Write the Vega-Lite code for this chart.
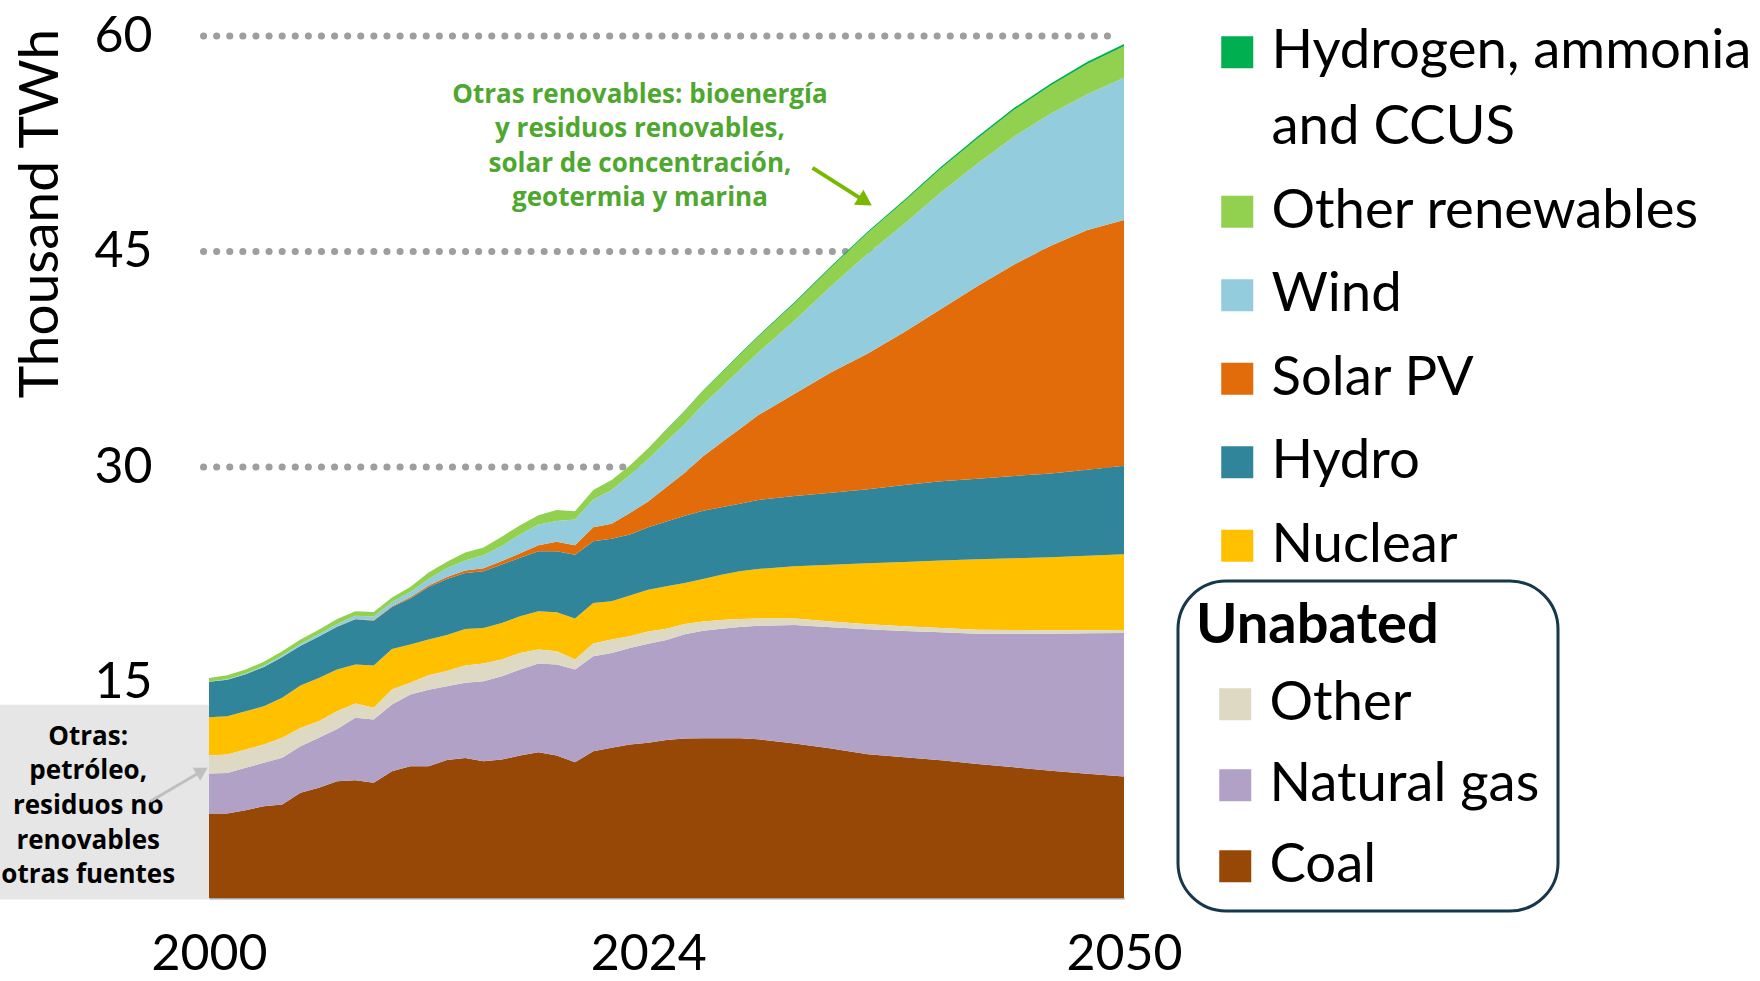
{
  "$schema": "https://vega.github.io/schema/vega-lite/v6.json",
  "width": 915,
  "height": 862,
  "autosize": {"type": "none"},
  "padding": {"left": 209, "top": 36, "right": 636, "bottom": 83},
  "background": "#ffffff",
  "config": {
    "view": {"stroke": null},
    "font": "Lato",
    "style": {"guide-label": {"lineHeight": 76}},
    "legend": {"strokeWidth": 3},
    "axisX": {"grid": false, "ticks": false, "domain": true, "domainColor": "#a6a6a6", "domainWidth": 2, "labelFont": "Lato", "labelFontSize": 50, "labelColor": "#000000", "labelPadding": 31, "labelFlush": false, "labelOverlap": false, "zindex": 1},
    "axisY": {"grid": false, "ticks": false, "domain": false, "labelFont": "Lato", "labelFontSize": 50, "labelColor": "#000000", "labelPadding": 57, "labelFlush": false, "labelOverlap": false, "titleFont": "Lato", "titleFontSize": 55, "titleFontWeight": "normal", "titleColor": "#000000"}
  },
  "datasets": {
    "gen": [
      {"year":2000,"source":"Coal","value":5.88},{"year":2000,"source":"Natural gas","value":2.78},{"year":2000,"source":"Other","value":1.26},{"year":2000,"source":"Nuclear","value":2.66},{"year":2000,"source":"Hydro","value":2.47},{"year":2000,"source":"Solar PV","value":0},{"year":2000,"source":"Wind","value":0.02},{"year":2000,"source":"Other renewables","value":0.25},{"year":2000,"source":"Hydrogen, ammonia and CCUS","value":0},
      {"year":2001,"source":"Coal","value":5.88},{"year":2001,"source":"Natural gas","value":2.82},{"year":2001,"source":"Other","value":1.29},{"year":2001,"source":"Nuclear","value":2.66},{"year":2001,"source":"Hydro","value":2.55},{"year":2001,"source":"Solar PV","value":0},{"year":2001,"source":"Wind","value":0.03},{"year":2001,"source":"Other renewables","value":0.27},{"year":2001,"source":"Hydrogen, ammonia and CCUS","value":0},
      {"year":2002,"source":"Coal","value":6.11},{"year":2002,"source":"Natural gas","value":2.95},{"year":2002,"source":"Other","value":1.27},{"year":2002,"source":"Nuclear","value":2.67},{"year":2002,"source":"Hydro","value":2.58},{"year":2002,"source":"Solar PV","value":0},{"year":2002,"source":"Wind","value":0.05},{"year":2002,"source":"Other renewables","value":0.27},{"year":2002,"source":"Hydrogen, ammonia and CCUS","value":0},
      {"year":2003,"source":"Coal","value":6.39},{"year":2003,"source":"Natural gas","value":3.02},{"year":2003,"source":"Other","value":1.27},{"year":2003,"source":"Nuclear","value":2.67},{"year":2003,"source":"Hydro","value":2.73},{"year":2003,"source":"Solar PV","value":0},{"year":2003,"source":"Wind","value":0.08},{"year":2003,"source":"Other renewables","value":0.29},{"year":2003,"source":"Hydrogen, ammonia and CCUS","value":0},
      {"year":2004,"source":"Coal","value":6.51},{"year":2004,"source":"Natural gas","value":3.25},{"year":2004,"source":"Other","value":1.39},{"year":2004,"source":"Nuclear","value":2.78},{"year":2004,"source":"Hydro","value":2.85},{"year":2004,"source":"Solar PV","value":0},{"year":2004,"source":"Wind","value":0.10},{"year":2004,"source":"Other renewables","value":0.30},{"year":2004,"source":"Hydrogen, ammonia and CCUS","value":0},
      {"year":2005,"source":"Coal","value":7.32},{"year":2005,"source":"Natural gas","value":3.24},{"year":2005,"source":"Other","value":1.28},{"year":2005,"source":"Nuclear","value":2.95},{"year":2005,"source":"Hydro","value":2.76},{"year":2005,"source":"Solar PV","value":0},{"year":2005,"source":"Wind","value":0.13},{"year":2005,"source":"Other renewables","value":0.32},{"year":2005,"source":"Hydrogen, ammonia and CCUS","value":0},
      {"year":2006,"source":"Coal","value":7.67},{"year":2006,"source":"Natural gas","value":3.48},{"year":2006,"source":"Other","value":1.15},{"year":2006,"source":"Nuclear","value":3.02},{"year":2006,"source":"Hydro","value":2.88},{"year":2006,"source":"Solar PV","value":0},{"year":2006,"source":"Wind","value":0.16},{"year":2006,"source":"Other renewables","value":0.32},{"year":2006,"source":"Hydrogen, ammonia and CCUS","value":0},
      {"year":2007,"source":"Coal","value":8.13},{"year":2007,"source":"Natural gas","value":3.64},{"year":2007,"source":"Other","value":1.23},{"year":2007,"source":"Nuclear","value":2.90},{"year":2007,"source":"Hydro","value":2.98},{"year":2007,"source":"Solar PV","value":0.01},{"year":2007,"source":"Wind","value":0.19},{"year":2007,"source":"Other renewables","value":0.34},{"year":2007,"source":"Hydrogen, ammonia and CCUS","value":0},
      {"year":2008,"source":"Coal","value":8.20},{"year":2008,"source":"Natural gas","value":4.34},{"year":2008,"source":"Other","value":1.00},{"year":2008,"source":"Nuclear","value":2.71},{"year":2008,"source":"Hydro","value":3.15},{"year":2008,"source":"Solar PV","value":0.02},{"year":2008,"source":"Wind","value":0.23},{"year":2008,"source":"Other renewables","value":0.31},{"year":2008,"source":"Hydrogen, ammonia and CCUS","value":0},
      {"year":2009,"source":"Coal","value":8.02},{"year":2009,"source":"Natural gas","value":4.40},{"year":2009,"source":"Other","value":0.82},{"year":2009,"source":"Nuclear","value":2.94},{"year":2009,"source":"Hydro","value":3.12},{"year":2009,"source":"Solar PV","value":0.03},{"year":2009,"source":"Wind","value":0.27},{"year":2009,"source":"Other renewables","value":0.30},{"year":2009,"source":"Hydrogen, ammonia and CCUS","value":0},
      {"year":2010,"source":"Coal","value":8.83},{"year":2010,"source":"Natural gas","value":4.64},{"year":2010,"source":"Other","value":1.04},{"year":2010,"source":"Nuclear","value":2.83},{"year":2010,"source":"Hydro","value":2.91},{"year":2010,"source":"Solar PV","value":0.05},{"year":2010,"source":"Wind","value":0.30},{"year":2010,"source":"Other renewables","value":0.32},{"year":2010,"source":"Hydrogen, ammonia and CCUS","value":0},
      {"year":2011,"source":"Coal","value":9.17},{"year":2011,"source":"Natural gas","value":4.99},{"year":2011,"source":"Other","value":0.82},{"year":2011,"source":"Nuclear","value":2.66},{"year":2011,"source":"Hydro","value":3.21},{"year":2011,"source":"Solar PV","value":0.08},{"year":2011,"source":"Wind","value":0.37},{"year":2011,"source":"Other renewables","value":0.35},{"year":2011,"source":"Hydrogen, ammonia and CCUS","value":0},
      {"year":2012,"source":"Coal","value":9.17},{"year":2012,"source":"Natural gas","value":5.33},{"year":2012,"source":"Other","value":1.00},{"year":2012,"source":"Nuclear","value":2.50},{"year":2012,"source":"Hydro","value":3.65},{"year":2012,"source":"Solar PV","value":0.10},{"year":2012,"source":"Wind","value":0.45},{"year":2012,"source":"Other renewables","value":0.45},{"year":2012,"source":"Hydrogen, ammonia and CCUS","value":0},
      {"year":2013,"source":"Coal","value":9.60},{"year":2013,"source":"Natural gas","value":5.14},{"year":2013,"source":"Other","value":1.06},{"year":2013,"source":"Nuclear","value":2.50},{"year":2013,"source":"Hydro","value":3.90},{"year":2013,"source":"Solar PV","value":0.15},{"year":2013,"source":"Wind","value":0.60},{"year":2013,"source":"Other renewables","value":0.45},{"year":2013,"source":"Hydrogen, ammonia and CCUS","value":0},
      {"year":2014,"source":"Coal","value":9.75},{"year":2014,"source":"Natural gas","value":5.23},{"year":2014,"source":"Other","value":1.20},{"year":2014,"source":"Nuclear","value":2.55},{"year":2014,"source":"Hydro","value":3.90},{"year":2014,"source":"Solar PV","value":0.17},{"year":2014,"source":"Wind","value":0.70},{"year":2014,"source":"Other renewables","value":0.55},{"year":2014,"source":"Hydrogen, ammonia and CCUS","value":0},
      {"year":2015,"source":"Coal","value":9.52},{"year":2015,"source":"Natural gas","value":5.57},{"year":2015,"source":"Other","value":1.23},{"year":2015,"source":"Nuclear","value":2.48},{"year":2015,"source":"Hydro","value":3.94},{"year":2015,"source":"Solar PV","value":0.21},{"year":2015,"source":"Wind","value":0.90},{"year":2015,"source":"Other renewables","value":0.55},{"year":2015,"source":"Hydrogen, ammonia and CCUS","value":0},
      {"year":2016,"source":"Coal","value":9.64},{"year":2016,"source":"Natural gas","value":5.80},{"year":2016,"source":"Other","value":1.16},{"year":2016,"source":"Nuclear","value":2.55},{"year":2016,"source":"Hydro","value":4.06},{"year":2016,"source":"Solar PV","value":0.24},{"year":2016,"source":"Wind","value":1.05},{"year":2016,"source":"Other renewables","value":0.65},{"year":2016,"source":"Hydrogen, ammonia and CCUS","value":0},
      {"year":2017,"source":"Coal","value":9.92},{"year":2017,"source":"Natural gas","value":5.98},{"year":2017,"source":"Other","value":1.16},{"year":2017,"source":"Nuclear","value":2.55},{"year":2017,"source":"Hydro","value":4.07},{"year":2017,"source":"Solar PV","value":0.32},{"year":2017,"source":"Wind","value":1.30},{"year":2017,"source":"Other renewables","value":0.65},{"year":2017,"source":"Hydrogen, ammonia and CCUS","value":0},
      {"year":2018,"source":"Coal","value":10.15},{"year":2018,"source":"Natural gas","value":6.17},{"year":2018,"source":"Other","value":0.97},{"year":2018,"source":"Nuclear","value":2.67},{"year":2018,"source":"Hydro","value":4.18},{"year":2018,"source":"Solar PV","value":0.41},{"year":2018,"source":"Wind","value":1.45},{"year":2018,"source":"Other renewables","value":0.65},{"year":2018,"source":"Hydrogen, ammonia and CCUS","value":0},
      {"year":2019,"source":"Coal","value":9.92},{"year":2019,"source":"Natural gas","value":6.33},{"year":2019,"source":"Other","value":0.93},{"year":2019,"source":"Nuclear","value":2.71},{"year":2019,"source":"Hydro","value":4.25},{"year":2019,"source":"Solar PV","value":0.66},{"year":2019,"source":"Wind","value":1.45},{"year":2019,"source":"Other renewables","value":0.75},{"year":2019,"source":"Hydrogen, ammonia and CCUS","value":0},
      {"year":2020,"source":"Coal","value":9.45},{"year":2020,"source":"Natural gas","value":6.45},{"year":2020,"source":"Other","value":0.70},{"year":2020,"source":"Nuclear","value":2.85},{"year":2020,"source":"Hydro","value":4.45},{"year":2020,"source":"Solar PV","value":0.65},{"year":2020,"source":"Wind","value":1.80},{"year":2020,"source":"Other renewables","value":0.57},{"year":2020,"source":"Hydrogen, ammonia and CCUS","value":0},
      {"year":2021,"source":"Coal","value":10.22},{"year":2021,"source":"Natural gas","value":6.61},{"year":2021,"source":"Other","value":0.88},{"year":2021,"source":"Nuclear","value":2.83},{"year":2021,"source":"Hydro","value":4.29},{"year":2021,"source":"Solar PV","value":0.97},{"year":2021,"source":"Wind","value":1.93},{"year":2021,"source":"Other renewables","value":0.67},{"year":2021,"source":"Hydrogen, ammonia and CCUS","value":0},
      {"year":2022,"source":"Coal","value":10.45},{"year":2022,"source":"Natural gas","value":6.61},{"year":2022,"source":"Other","value":0.93},{"year":2022,"source":"Nuclear","value":2.67},{"year":2022,"source":"Hydro","value":4.34},{"year":2022,"source":"Solar PV","value":1.05},{"year":2022,"source":"Wind","value":2.35},{"year":2022,"source":"Other renewables","value":0.70},{"year":2022,"source":"Hydrogen, ammonia and CCUS","value":0},
      {"year":2023,"source":"Coal","value":10.68},{"year":2023,"source":"Natural gas","value":6.73},{"year":2023,"source":"Other","value":0.81},{"year":2023,"source":"Nuclear","value":2.83},{"year":2023,"source":"Hydro","value":4.25},{"year":2023,"source":"Solar PV","value":1.50},{"year":2023,"source":"Wind","value":2.65},{"year":2023,"source":"Other renewables","value":0.65},{"year":2023,"source":"Hydrogen, ammonia and CCUS","value":0},
      {"year":2024,"source":"Coal","value":10.80},{"year":2024,"source":"Natural gas","value":6.90},{"year":2024,"source":"Other","value":0.85},{"year":2024,"source":"Nuclear","value":2.90},{"year":2024,"source":"Hydro","value":4.35},{"year":2024,"source":"Solar PV","value":1.80},{"year":2024,"source":"Wind","value":2.95},{"year":2024,"source":"Other renewables","value":0.75},{"year":2024,"source":"Hydrogen, ammonia and CCUS","value":0},
      {"year":2025,"source":"Coal","value":11.00},{"year":2025,"source":"Natural gas","value":6.95},{"year":2025,"source":"Other","value":0.80},{"year":2025,"source":"Nuclear","value":2.95},{"year":2025,"source":"Hydro","value":4.50},{"year":2025,"source":"Solar PV","value":2.40},{"year":2025,"source":"Wind","value":3.20},{"year":2025,"source":"Other renewables","value":0.80},{"year":2025,"source":"Hydrogen, ammonia and CCUS","value":0.02},
      {"year":2026,"source":"Coal","value":11.10},{"year":2026,"source":"Natural gas","value":7.25},{"year":2026,"source":"Other","value":0.72},{"year":2026,"source":"Nuclear","value":2.86},{"year":2026,"source":"Hydro","value":4.67},{"year":2026,"source":"Solar PV","value":3.00},{"year":2026,"source":"Wind","value":3.40},{"year":2026,"source":"Other renewables","value":0.90},{"year":2026,"source":"Hydrogen, ammonia and CCUS","value":0.03},
      {"year":2027,"source":"Coal","value":11.12},{"year":2027,"source":"Natural gas","value":7.48},{"year":2027,"source":"Other","value":0.65},{"year":2027,"source":"Nuclear","value":2.95},{"year":2027,"source":"Hydro","value":4.75},{"year":2027,"source":"Solar PV","value":3.80},{"year":2027,"source":"Wind","value":3.60},{"year":2027,"source":"Other renewables","value":0.95},{"year":2027,"source":"Hydrogen, ammonia and CCUS","value":0.04},
      {"year":2028,"source":"Coal","value":11.12},{"year":2028,"source":"Natural gas","value":7.63},{"year":2028,"source":"Other","value":0.60},{"year":2028,"source":"Nuclear","value":3.15},{"year":2028,"source":"Hydro","value":4.70},{"year":2028,"source":"Solar PV","value":4.50},{"year":2028,"source":"Wind","value":3.85},{"year":2028,"source":"Other renewables","value":1.00},{"year":2028,"source":"Hydrogen, ammonia and CCUS","value":0.05},
      {"year":2029,"source":"Coal","value":11.12},{"year":2029,"source":"Natural gas","value":7.75},{"year":2029,"source":"Other","value":0.55},{"year":2029,"source":"Nuclear","value":3.33},{"year":2029,"source":"Hydro","value":4.70},{"year":2029,"source":"Solar PV","value":5.20},{"year":2029,"source":"Wind","value":4.10},{"year":2029,"source":"Other renewables","value":1.05},{"year":2029,"source":"Hydrogen, ammonia and CCUS","value":0.06},
      {"year":2030,"source":"Coal","value":11.05},{"year":2030,"source":"Natural gas","value":7.90},{"year":2030,"source":"Other","value":0.50},{"year":2030,"source":"Nuclear","value":3.45},{"year":2030,"source":"Hydro","value":4.80},{"year":2030,"source":"Solar PV","value":5.90},{"year":2030,"source":"Wind","value":4.35},{"year":2030,"source":"Other renewables","value":1.10},{"year":2030,"source":"Hydrogen, ammonia and CCUS","value":0.07},
      {"year":2032,"source":"Coal","value":10.75},{"year":2032,"source":"Natural gas","value":8.25},{"year":2032,"source":"Other","value":0.45},{"year":2032,"source":"Nuclear","value":3.65},{"year":2032,"source":"Hydro","value":4.88},{"year":2032,"source":"Solar PV","value":7.12},{"year":2032,"source":"Wind","value":5.10},{"year":2032,"source":"Other renewables","value":1.20},{"year":2032,"source":"Hydrogen, ammonia and CCUS","value":0.08},
      {"year":2034,"source":"Coal","value":10.40},{"year":2034,"source":"Natural gas","value":8.45},{"year":2034,"source":"Other","value":0.40},{"year":2034,"source":"Nuclear","value":3.95},{"year":2034,"source":"Hydro","value":5.00},{"year":2034,"source":"Solar PV","value":8.40},{"year":2034,"source":"Wind","value":6.00},{"year":2034,"source":"Other renewables","value":1.30},{"year":2034,"source":"Hydrogen, ammonia and CCUS","value":0.09},
      {"year":2036,"source":"Coal","value":10.00},{"year":2036,"source":"Natural gas","value":8.70},{"year":2036,"source":"Other","value":0.36},{"year":2036,"source":"Nuclear","value":4.24},{"year":2036,"source":"Hydro","value":5.15},{"year":2036,"source":"Solar PV","value":9.45},{"year":2036,"source":"Wind","value":6.95},{"year":2036,"source":"Other renewables","value":1.45},{"year":2036,"source":"Hydrogen, ammonia and CCUS","value":0.10},
      {"year":2038,"source":"Coal","value":9.80},{"year":2038,"source":"Natural gas","value":8.79},{"year":2038,"source":"Other","value":0.33},{"year":2038,"source":"Nuclear","value":4.46},{"year":2038,"source":"Hydro","value":5.36},{"year":2038,"source":"Solar PV","value":10.66},{"year":2038,"source":"Wind","value":7.54},{"year":2038,"source":"Other renewables","value":1.55},{"year":2038,"source":"Hydrogen, ammonia and CCUS","value":0.11},
      {"year":2040,"source":"Coal","value":9.58},{"year":2040,"source":"Natural gas","value":8.92},{"year":2040,"source":"Other","value":0.30},{"year":2040,"source":"Nuclear","value":4.70},{"year":2040,"source":"Hydro","value":5.50},{"year":2040,"source":"Solar PV","value":12.00},{"year":2040,"source":"Wind","value":8.13},{"year":2040,"source":"Other renewables","value":1.65},{"year":2040,"source":"Hydrogen, ammonia and CCUS","value":0.12},
      {"year":2042,"source":"Coal","value":9.33},{"year":2042,"source":"Natural gas","value":9.07},{"year":2042,"source":"Other","value":0.28},{"year":2042,"source":"Nuclear","value":4.90},{"year":2042,"source":"Hydro","value":5.60},{"year":2042,"source":"Solar PV","value":13.42},{"year":2042,"source":"Wind","value":8.52},{"year":2042,"source":"Other renewables","value":1.75},{"year":2042,"source":"Hydrogen, ammonia and CCUS","value":0.13},
      {"year":2044,"source":"Coal","value":9.10},{"year":2044,"source":"Natural gas","value":9.30},{"year":2044,"source":"Other","value":0.25},{"year":2044,"source":"Nuclear","value":5.00},{"year":2044,"source":"Hydro","value":5.73},{"year":2044,"source":"Solar PV","value":14.72},{"year":2044,"source":"Wind","value":8.91},{"year":2044,"source":"Other renewables","value":1.85},{"year":2044,"source":"Hydrogen, ammonia and CCUS","value":0.14},
      {"year":2046,"source":"Coal","value":8.85},{"year":2046,"source":"Natural gas","value":9.55},{"year":2046,"source":"Other","value":0.23},{"year":2046,"source":"Nuclear","value":5.09},{"year":2046,"source":"Hydro","value":5.83},{"year":2046,"source":"Solar PV","value":15.85},{"year":2046,"source":"Wind","value":9.20},{"year":2046,"source":"Other renewables","value":1.95},{"year":2046,"source":"Hydrogen, ammonia and CCUS","value":0.15},
      {"year":2048,"source":"Coal","value":8.65},{"year":2048,"source":"Natural gas","value":9.77},{"year":2048,"source":"Other","value":0.21},{"year":2048,"source":"Nuclear","value":5.19},{"year":2048,"source":"Hydro","value":5.98},{"year":2048,"source":"Solar PV","value":16.70},{"year":2048,"source":"Wind","value":9.45},{"year":2048,"source":"Other renewables","value":2.10},{"year":2048,"source":"Hydrogen, ammonia and CCUS","value":0.15},
      {"year":2050,"source":"Coal","value":8.46},{"year":2050,"source":"Natural gas","value":9.99},{"year":2050,"source":"Other","value":0.20},{"year":2050,"source":"Nuclear","value":5.27},{"year":2050,"source":"Hydro","value":6.16},{"year":2050,"source":"Solar PV","value":17.12},{"year":2050,"source":"Wind","value":9.89},{"year":2050,"source":"Other renewables","value":2.20},{"year":2050,"source":"Hydrogen, ammonia and CCUS","value":0.16}
    ]
  },
  "layer": [
    {
      "data": {"values": [{"grid": 30}, {"grid": 45}, {"grid": 60}]},
      "mark": {"type": "rule", "color": "#9e9e9e", "strokeWidth": 7, "strokeDash": [0.1, 13], "strokeCap": "round"},
      "encoding": {
        "y": {"field": "grid", "type": "quantitative", "scale": {"domain": [0, 60], "nice": false}, "axis": {"values": [15, 30, 45, 60], "title": "Thousand TWh", "titleX": -152, "titleY": 177, "titleBaseline": "alphabetic", "titleAlign": "center", "titleAngle": 270}},
        "x": {"datum": 1999.7, "type": "quantitative", "scale": {"domain": [2000, 2050], "nice": false}, "axis": {"values": [2000, 2024, 2050], "format": "d", "title": null}},
        "x2": {"datum": 2049.3}
      }
    },
    {
      "data": {"name": "gen"},
      "transform": [
        {"calculate": "indexof(['Coal','Natural gas','Other','Nuclear','Hydro','Solar PV','Wind','Other renewables','Hydrogen, ammonia and CCUS'], datum.source)", "as": "rank"},
        {"stack": "value", "groupby": ["year"], "sort": [{"field": "rank", "order": "ascending"}], "as": ["y0", "y1"]},
        {"filter": "datum.rank >= 3"}
      ],
      "mark": {"type": "area", "opacity": 1},
      "encoding": {
        "x": {"field": "year", "type": "quantitative", "scale": {"domain": [2000, 2050], "nice": false}, "axis": {"values": [2000, 2024, 2050], "format": "d", "title": null}},
        "y": {"field": "y1", "type": "quantitative", "scale": {"domain": [0, 60], "nice": false}, "axis": {"values": [15, 30, 45, 60], "title": "Thousand TWh", "titleX": -152, "titleY": 177, "titleBaseline": "alphabetic", "titleAlign": "center", "titleAngle": 270}},
        "y2": {"field": "y0"},
        "color": {
          "field": "source", "type": "nominal",
          "scale": {"domain": ["Hydrogen, ammonia and CCUS", "Other renewables", "Wind", "Solar PV", "Hydro", "Nuclear"], "range": ["#00b050", "#92d050", "#93cddd", "#e36c0a", "#31859b", "#ffc000"]},
          "legend": {
            "title": null, "orient": "none", "legendX": 1001, "legendY": -11, "padding": 0,
            "symbolType": "square", "symbolSize": 1024, "symbolStrokeWidth": 0, "symbolOffset": 0,
            "labelFont": "Lato", "labelFontSize": 54.5, "labelColor": "#000000", "labelLimit": 1000, "labelOffset": 7, "rowPadding": 28.5,
            "labelExpr": "datum.value == 'Hydrogen, ammonia and CCUS' ? ['Hydrogen, ammonia', 'and CCUS'] : datum.label",
            "encode": {"labels": {"lineHeight": {"value": 76}}}
          }
        }
      }
    },
    {
      "data": {"name": "gen"},
      "transform": [
        {"calculate": "indexof(['Coal','Natural gas','Other','Nuclear','Hydro','Solar PV','Wind','Other renewables','Hydrogen, ammonia and CCUS'], datum.source)", "as": "rank"},
        {"stack": "value", "groupby": ["year"], "sort": [{"field": "rank", "order": "ascending"}], "as": ["y0", "y1"]},
        {"filter": "datum.rank < 3"}
      ],
      "mark": {"type": "area", "opacity": 1},
      "encoding": {
        "x": {"field": "year", "type": "quantitative", "scale": {"domain": [2000, 2050], "nice": false}, "axis": {"values": [2000, 2024, 2050], "format": "d", "title": null}},
        "y": {"field": "y1", "type": "quantitative", "scale": {"domain": [0, 60], "nice": false}, "axis": {"values": [15, 30, 45, 60], "title": "Thousand TWh", "titleX": -152, "titleY": 177, "titleBaseline": "alphabetic", "titleAlign": "center", "titleAngle": 270}},
        "y2": {"field": "y0"},
        "color": {
          "field": "source", "type": "nominal",
          "scale": {"domain": ["Other", "Natural gas", "Coal"], "range": ["#ddd9c3", "#b2a1c7", "#974807"]},
          "legend": {
            "title": "Unabated", "titleFont": "Lato", "titleFontSize": 56, "titleFontWeight": "bold", "titleColor": "#000000", "titleLimit": 1000, "titlePadding": 22, "titleAnchor": "start",
            "orient": "none", "legendX": 969, "legendY": 545, "padding": 18, "strokeColor": "#17374a", "cornerRadius": 48,
            "symbolType": "square", "symbolSize": 1024, "symbolStrokeWidth": 0, "symbolOffset": 12,
            "labelFont": "Lato", "labelFontSize": 54.5, "labelColor": "#000000", "labelLimit": 1000, "labelOffset": 7, "rowPadding": 26
          }
        }
      }
    },
    {
      "data": {"values": [{}]},
      "mark": {"type": "rect", "color": "#e7e6e6"},
      "encoding": {
        "x": {"datum": 1988.5, "type": "quantitative", "scale": {"domain": [2000, 2050], "nice": false}, "axis": {"values": [2000, 2024, 2050], "format": "d", "title": null}},
        "x2": {"datum": 2000},
        "y": {"datum": 13.45, "type": "quantitative", "scale": {"domain": [0, 60], "nice": false}, "axis": {"values": [15, 30, 45, 60], "title": "Thousand TWh", "titleX": -152, "titleY": 177, "titleBaseline": "alphabetic", "titleAlign": "center", "titleAngle": 270}},
        "y2": {"datum": -0.1}
      }
    },
    {
      "data": {"values": [{}]},
      "mark": {"type": "text", "font": "Open Sans", "fontWeight": "bold", "fontSize": 26, "lineHeight": 34.7, "align": "center", "baseline": "alphabetic", "color": "#000000"},
      "encoding": {
        "x": {"datum": 1993.4, "type": "quantitative", "scale": {"domain": [2000, 2050], "nice": false}, "axis": {"values": [2000, 2024, 2050], "format": "d", "title": null}},
        "y": {"datum": 10.68, "type": "quantitative", "scale": {"domain": [0, 60], "nice": false}, "axis": {"values": [15, 30, 45, 60], "title": "Thousand TWh", "titleX": -152, "titleY": 177, "titleBaseline": "alphabetic", "titleAlign": "center", "titleAngle": 270}},
        "text": {"value": ["Otras:", "petróleo,", "residuos no", "renovables", "otras fuentes"]}
      }
    },
    {
      "data": {"values": [{}]},
      "mark": {"type": "rule", "color": "#bfbfbf", "strokeWidth": 3},
      "encoding": {
        "x": {"datum": 1996.78, "type": "quantitative", "scale": {"domain": [2000, 2050], "nice": false}, "axis": {"values": [2000, 2024, 2050], "format": "d", "title": null}},
        "y": {"datum": 6.72, "type": "quantitative", "scale": {"domain": [0, 60], "nice": false}, "axis": {"values": [15, 30, 45, 60], "title": "Thousand TWh", "titleX": -152, "titleY": 177, "titleBaseline": "alphabetic", "titleAlign": "center", "titleAngle": 270}},
        "x2": {"datum": 1999.62},
        "y2": {"datum": 8.84}
      }
    },
    {
      "data": {"values": [{}]},
      "mark": {"type": "point", "shape": "triangle-up", "filled": true, "color": "#bfbfbf", "opacity": 1, "size": 220, "angle": 59.6},
      "encoding": {
        "x": {"datum": 1999.62, "type": "quantitative", "scale": {"domain": [2000, 2050], "nice": false}, "axis": {"values": [2000, 2024, 2050], "format": "d", "title": null}},
        "y": {"datum": 8.84, "type": "quantitative", "scale": {"domain": [0, 60], "nice": false}, "axis": {"values": [15, 30, 45, 60], "title": "Thousand TWh", "titleX": -152, "titleY": 177, "titleBaseline": "alphabetic", "titleAlign": "center", "titleAngle": 270}}
      }
    },
    {
      "data": {"values": [{}]},
      "mark": {"type": "text", "font": "Open Sans", "fontWeight": "bold", "fontSize": 26, "lineHeight": 34.5, "align": "center", "baseline": "alphabetic", "color": "#4ea72e"},
      "encoding": {
        "x": {"datum": 2023.55, "type": "quantitative", "scale": {"domain": [2000, 2050], "nice": false}, "axis": {"values": [2000, 2024, 2050], "format": "d", "title": null}},
        "y": {"datum": 55.34, "type": "quantitative", "scale": {"domain": [0, 60], "nice": false}, "axis": {"values": [15, 30, 45, 60], "title": "Thousand TWh", "titleX": -152, "titleY": 177, "titleBaseline": "alphabetic", "titleAlign": "center", "titleAngle": 270}},
        "text": {"value": ["Otras renovables: bioenergía", "y residuos renovables,", "solar de concentración,", "geotermia y marina"]}
      }
    },
    {
      "data": {"values": [{}]},
      "mark": {"type": "rule", "color": "#78b900", "strokeWidth": 4},
      "encoding": {
        "x": {"datum": 2032.98, "type": "quantitative", "scale": {"domain": [2000, 2050], "nice": false}, "axis": {"values": [2000, 2024, 2050], "format": "d", "title": null}},
        "y": {"datum": 50.82, "type": "quantitative", "scale": {"domain": [0, 60], "nice": false}, "axis": {"values": [15, 30, 45, 60], "title": "Thousand TWh", "titleX": -152, "titleY": 177, "titleBaseline": "alphabetic", "titleAlign": "center", "titleAngle": 270}},
        "x2": {"datum": 2035.86},
        "y2": {"datum": 48.49}
      }
    },
    {
      "data": {"values": [{}]},
      "mark": {"type": "point", "shape": "triangle-up", "filled": true, "color": "#78b900", "opacity": 1, "size": 320, "angle": 122.3},
      "encoding": {
        "x": {"datum": 2035.86, "type": "quantitative", "scale": {"domain": [2000, 2050], "nice": false}, "axis": {"values": [2000, 2024, 2050], "format": "d", "title": null}},
        "y": {"datum": 48.49, "type": "quantitative", "scale": {"domain": [0, 60], "nice": false}, "axis": {"values": [15, 30, 45, 60], "title": "Thousand TWh", "titleX": -152, "titleY": 177, "titleBaseline": "alphabetic", "titleAlign": "center", "titleAngle": 270}}
      }
    }
  ],
  "resolve": {"scale": {"color": "independent"}, "legend": {"color": "independent"}}
}
